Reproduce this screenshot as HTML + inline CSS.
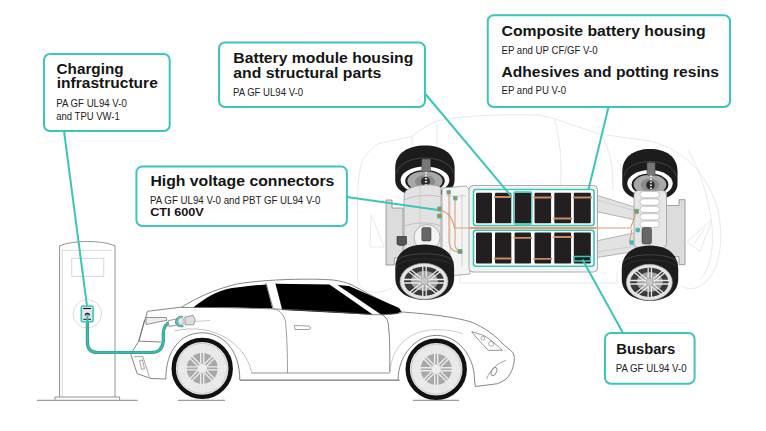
<!DOCTYPE html>
<html><head><meta charset="utf-8">
<style>
html,body{margin:0;padding:0;background:#fff;width:766px;height:431px;overflow:hidden}
svg{position:absolute;left:0;top:0;display:block}
.t{font-family:"Liberation Sans",sans-serif;font-weight:700;fill:#151515;font-size:14.5px}
.s{font-family:"Liberation Sans",sans-serif;font-weight:400;fill:#222;font-size:10.6px}
.box{fill:#fff;stroke:#3ac6b8;stroke-width:2}
.ld{stroke:#3ac6b8;stroke-width:2;fill:none}
</style></head><body>
<svg width="766" height="431" viewBox="0 0 766 431">
<g id="illus">
<g id="ghost" fill="none" stroke="#e2e2e2" stroke-width="0.8">
  <path d="M357.5 195 C358 180 360 168 362.8 159.3 C370 150 375 145 378.4 143.7 L411.9 136.3 C420 130 430 123 439 120.7 C455 117 470 116.4 485 115.5 C510 114.5 530 114.5 540.5 115.3 L554.6 118.8 L599.2 134 L650 141 C685 150 708 175 718 210 C724 240 720 268 706 282 C697 290 688 290 681.8 286"/>
  <path d="M554.6 118.8 C560 140 562 160 560.5 187 M601.6 135 C610 150 613 165 613 190 M437 124 V157 M412 136 V147"/>
  <path d="M357.5 195 V282 C362 292 375 296 392 288"/>
  <path d="M371 215 C376 225 380 238 384 247 L370 247 Z"/>
  <path d="M688 150 C700 170 708 195 712 225 C714 250 710 268 700 280"/>
  <path d="M687 241.8 L712 219.5 L700 251.5 Z M694 244 L705 228"/>
  <path d="M460 272 V283 H617 V272"/>
</g>
<g id="chassis" stroke-linejoin="round">
  <!-- front bumper beam -->
  <path d="M386 200 H392 V208 H403 V258 H394.4 V265 H386 Z" fill="#dcdcdc" stroke="#888" stroke-width="0.8"/>
  <!-- rear frame rails -->
  <path d="M596 195 L636 207.4 L636 220 L596 211.6 Z" fill="#e2e2e2" stroke="#999" stroke-width="0.7"/>
  <path d="M597 200 L636 211" fill="none" stroke="#bbb" stroke-width="0.5"/>
  <path d="M596 241 L636 232.5 L636 251.3 L596 257.6 Z" fill="#e2e2e2" stroke="#999" stroke-width="0.7"/>
  <path d="M597 252 L636 246" fill="none" stroke="#bbb" stroke-width="0.5"/>
  <!-- rear bumper beam -->
  <path d="M660 205.5 H679 V199.7 H685 V264.7 H679 V256.6 H660 Z" fill="#dcdcdc" stroke="#888" stroke-width="0.8"/>
  <!-- top tires -->
  <g id="tireTop">
    <path d="M395.2 168 C395.2 153 408 145.5 425 145.5 C442 145.5 454.6 153 454.6 168 V180 C454.6 190 445 196.5 425 196.5 C405 196.5 395.2 190 395.2 180 Z" fill="#1c1c1c"/>
    <path d="M397 173 C400 153 450 153 453 173" fill="none" stroke="#555" stroke-width="0.7"/>
    <ellipse cx="425" cy="180" rx="24.4" ry="13.6" fill="#fff"/>
    <ellipse cx="425" cy="181" rx="19.8" ry="11" fill="#1c1c1c"/>
    <ellipse cx="425" cy="181" rx="17.6" ry="9.8" fill="#a8a8a8"/>
    <ellipse cx="425" cy="181.5" rx="10" ry="6.5" fill="#8a8a8a"/>
    <circle cx="425.5" cy="181.5" r="4.5" fill="#2a2a2a"/>
    <rect x="421.8" y="159" width="8.7" height="13" rx="1" fill="#777" stroke="#444" stroke-width="0.5"/>
    <path d="M426 172 V190" stroke="#e6e6e6" stroke-width="2.2" stroke-dasharray="1.6 1.4"/>
  </g>
  <use href="#tireTop" transform="translate(650 3.5) scale(0.93 1) translate(-425 0)"/>
  <!-- front motor housing -->
  <path d="M404 252 V196 C404 190 410 187 420 185.5 C430 184 438 185 441 188 V252 Z" fill="#e2e2e2" stroke="#999" stroke-width="0.8"/>
  <path d="M404 200 C415 195 432 194 441 197 M404 226 C415 222 432 222 441 226" fill="none" stroke="#aaa" stroke-width="0.6"/>
  <path d="M420 186 V226" fill="none" stroke="#c4c4c4" stroke-width="0.6"/>
  <circle cx="427" cy="237.5" r="13" fill="#f4f4f4" stroke="#999" stroke-width="0.7"/>
  <rect x="421.8" y="227.4" width="9.2" height="13.6" rx="1.5" fill="#666" stroke="#333" stroke-width="0.5"/>
  <!-- small dark connector -->
  <path d="M397 236.5 H406.5 V244 C404 246 399 246 397 244 Z" fill="#555" stroke="#222" stroke-width="0.6"/>
  <!-- inverter box -->
  <path d="M442 188 L466 186 L470 190 V274 L448 276 L442 270 Z" fill="#f4f4f4" stroke="#999" stroke-width="0.8"/>
  <path d="M450 196 V268 M462 194 V266 M446 196 H466" fill="none" stroke="#bbb" stroke-width="0.6"/>
  <!-- battery pack -->
  <rect x="469" y="185.5" width="128.5" height="86.5" rx="4" fill="#f2f2f2" stroke="#999" stroke-width="0.8"/>
  <rect x="473.5" y="189.5" width="120.5" height="36" rx="2.5" fill="#fff" stroke="#3ac6b8" stroke-width="1.6"/>
  <rect x="473.5" y="230.2" width="120.5" height="36" rx="2.5" fill="#fff" stroke="#3ac6b8" stroke-width="1.6"/>
  <path d="M470 228 H596" stroke="#d6a07a" stroke-width="2"/>
  <g fill="#231f20">
    <rect x="476" y="192.8" width="16" height="30.5" rx="1"/>
    <rect x="495" y="192.8" width="16.3" height="30.5" rx="1"/>
    <rect x="514.6" y="192.8" width="16.4" height="30.5" rx="1"/>
    <rect x="534.5" y="192.8" width="16.6" height="30.5" rx="1"/>
    <rect x="554.3" y="192.8" width="16.8" height="30.5" rx="1"/>
    <rect x="573.8" y="192.8" width="17" height="30.5" rx="1"/>
    <rect x="476" y="232.5" width="16" height="31" rx="1"/>
    <rect x="495" y="232.5" width="16.3" height="31" rx="1"/>
    <rect x="514.6" y="232.5" width="16.4" height="31" rx="1"/>
    <rect x="534.5" y="232.5" width="16.6" height="31" rx="1"/>
    <rect x="554.3" y="232.5" width="16.8" height="31" rx="1"/>
    <rect x="573.8" y="232.5" width="17" height="31" rx="1"/>
  </g>
  <rect x="513.8" y="192" width="18" height="32" rx="1.5" fill="none" stroke="#3ac6b8" stroke-width="1.3"/>
  <g stroke="#c98a5e" stroke-width="1.8">
    <path d="M494 197 H512 M533.5 197.5 H552 M572.8 197.5 H592 M553.3 218.5 H572"/>
    <path d="M494 258.5 H512 M513.6 237.8 H532 M533.5 258.8 H552 M553.3 237 H572"/>
  </g>
  <path d="M574 256.5 H590.5 V261 H574 Z" fill="#231f20" stroke="#3ac6b8" stroke-width="1.3"/>
  <!-- rear motor -->
  <rect x="634" y="190.5" width="32.5" height="57" rx="4" fill="#e6e6e6" stroke="#999" stroke-width="0.8"/>
  <g fill="#fff" stroke="#aaa" stroke-width="0.6">
    <rect x="640" y="191.5" width="19.5" height="6.2" rx="3"/>
    <rect x="640" y="198.9" width="19.5" height="6.2" rx="3"/>
    <rect x="640" y="206.3" width="19.5" height="6.2" rx="3"/>
    <rect x="640" y="213.7" width="19.5" height="6.2" rx="3"/>
    <rect x="640" y="221.1" width="19.5" height="6.2" rx="3"/>
  </g>
  <rect x="642" y="227.5" width="9.5" height="16.5" rx="2" fill="#666" stroke="#333" stroke-width="0.5"/>
  <!-- bottom wheels -->
  <g id="wheelB">
    <path d="M395.3 268 C395.3 252 408 244.5 424.7 244.5 C441 244.5 454.1 252 454.1 268 V278 C454.1 292 441 299.8 424.7 299.8 C408 299.8 395.3 292 395.3 278 Z" fill="#1c1c1c"/>
    <path d="M396 262 C400 251 449 251 453.5 262" fill="none" stroke="#555" stroke-width="0.7"/>
    <path d="M396 267 C402 256 447 256 453.5 267" fill="none" stroke="#3a3a3a" stroke-width="0.6"/>
    <ellipse cx="424" cy="281.3" rx="24" ry="18" fill="#e4e4e4" stroke="#999" stroke-width="0.6"/>
    <ellipse cx="424" cy="281.3" rx="20" ry="14.6" fill="#3a3a3a"/>
    <ellipse cx="424.5" cy="281" rx="13.5" ry="10" fill="#a0a0a0"/>
    <g stroke="#eaeaea" stroke-width="1.3">
      <path d="M422.8 267 V296 M426.2 267 V296 M404 279.5 H445 M404 283 H445"/>
      <path d="M410.5 269.5 L439 292 M408.5 271.5 L437 294 M438.5 269.5 L410 292 M440.5 271.5 L412 294"/>
    </g>
    <circle cx="424.5" cy="281" r="3.8" fill="#c8c8c8" stroke="#888" stroke-width="0.5"/>
  </g>
  <use href="#wheelB" transform="translate(650 1) scale(0.96 1) translate(-424.7 0)"/>
  <!-- orange cables -->
  <g fill="none" stroke="#d6a07c" stroke-width="1.1">
    <path d="M440 210 C446 212 452 214 455 230 C456 240 452 249 460 251"/>
    <path d="M449 193 V240 C449 250 455 252 460 252"/>
    <path d="M455 199 V228 H470"/>
    <path d="M596 228 H630.6 L636.4 212"/>
    <path d="M632 228.7 L629.4 242.6"/>
  </g>
  <g fill="#e0702a" stroke="#3ac6b8" stroke-width="1">
    <rect x="437.5" y="207" width="4" height="4"/>
    <rect x="437.5" y="214" width="4" height="4"/>
    <rect x="447" y="190.5" width="3.5" height="3.5"/>
    <rect x="453.5" y="196.5" width="3.5" height="3.5"/>
    <rect x="458" y="249.5" width="4" height="4"/>
    <rect x="634.5" y="209.3" width="4" height="4"/>
    <rect x="636" y="228.3" width="3.5" height="3.5" fill="#5aa"/>
    <rect x="630" y="240.8" width="3.5" height="3.5" fill="#5aa"/>
  </g>
</g>
<g id="car" fill="none" stroke="#666" stroke-width="0.8" stroke-linejoin="round">
  <path d="M37 400.3 H137.7 M178 400.3 H225 M413 400.3 H459" stroke="#777" stroke-width="0.9"/>
  <!-- body silhouette -->
  <path fill="#fff" d="M147.4 311.3 L181.5 307.1 C195 299 213 289.5 238 283.8 C268 279 312 278.3 333 280 C341 281 346 282.5 352 285 L402.3 312 C430 314 455 317 471 322 C484 327 496 336 504 345 L512.6 352.1 C515 356 515 362 512 370 C510 375 507 379 503 381 L497.7 383.7 L475.4 386.5 L474.5 380 C474.5 356 458 335.4 436.5 335.4 C415 335.4 398.1 356 398.1 380 L239.8 380 C239.8 350 223 332.8 202 332.8 C181 332.8 165.8 350 165.8 379 L151 378.5 L137.2 373.7 L130.7 354.1 L138.8 341.1 Z"/>
  <!-- rear window -->
  <path fill="#000" stroke="none" d="M193.3 307.6 C205 298 216 291 232 288 C245 286 256 285 266.2 284.4 L272.4 308.4 C250 308 215 307.5 193.3 307.6 Z"/>
  <!-- C pillar -->
  <path d="M266 283 L273 308.5 M276 283 L282.5 310"/>
  <!-- front side window -->
  <path fill="#000" stroke="none" d="M275.5 283.8 L329.5 284.4 L373 314.7 L282.5 310 Z"/>
  <!-- windshield strip -->
  <path fill="#000" stroke="none" d="M337.5 284.9 L349 286 L398 307.5 C400 309 401 310.5 401 311.5 L397 314 L381.4 314.7 Z"/>
  <!-- belt line -->
  <path d="M181.5 307.5 C230 307 300 309 373 314.7 C385 314.7 392 314.5 402 312.5"/>
  <!-- A pillar / front door line -->
  <path d="M381.4 314.7 C385 316 387.7 319 388.5 325 C390 340 390 358 389.7 372"/>
  <!-- rear door line -->
  <path d="M273 308.5 C279 310 283 313 285.4 320.9 C287 335 287.5 355 287.5 373" stroke="#888"/>
  <!-- door handle -->
  <path d="M294.4 325.5 L309 326 L311 328 L309 329.5 L295 329.5 Z" stroke="#777" stroke-width="0.7"/>
  <!-- sill lines -->
  <path d="M251 373 H390 M240 380.4 H400" stroke="#888" stroke-width="0.9"/>
  <!-- rear panel details -->
  <path d="M144.5 320 L138.8 341.1 L160.8 342"/>
  <path d="M146 317.5 L166.2 317.5 L166.9 320.3 L146 324.5 Z" fill="#eee" stroke-width="0.7"/>
  <path d="M133.9 356.6 H142.9 L149.4 376.9" stroke-width="0.6"/>
  <path d="M139.6 360.6 L142.5 360 L144.5 368.8 L141.5 369.3 Z" stroke-width="0.6"/>
  <!-- rear shoulder line -->
  <path d="M167.5 327 C180 323 195 321 210 320.5" stroke="#aaa" stroke-width="0.6"/>
  <!-- rear arch lines -->
  <path d="M174.7 330.8 C215 322 246 345 251.6 372.3" stroke="#999" stroke-width="0.6"/>
  <!-- front arch lines -->
  <path d="M390 372 C392 345 410 329.7 437 329.7 C447 329.7 456 331 463 334" stroke="#aaa" stroke-width="0.6"/>
  <!-- headlight -->
  <path d="M471.7 331.7 C480 334 486 336 489.3 339.1 C494 343 499 347 502.3 350.3 L488.4 350.3 C482 344 476 337 471.7 331.7 Z" stroke-width="0.7"/>
  <circle cx="482.8" cy="338.2" r="1.9" stroke-width="0.5"/>
  <circle cx="491.2" cy="343.8" r="2.6" stroke-width="0.5"/>
  <!-- fog light -->
  <ellipse cx="494" cy="371.6" rx="2.4" ry="4.5" transform="rotate(25 494 371.6)" stroke-width="0.7"/>
  <path d="M486.6 379 C490 370 497 363 506 360.5" stroke-width="0.6"/>
  <!-- wheels -->
  <g id="wheelR">
    <circle cx="202.2" cy="368.4" r="28.5" fill="#e8e8e8" stroke="#111" stroke-width="4.4"/>
    <circle cx="202.2" cy="368.4" r="25" fill="none" stroke="#aaa" stroke-width="0.5"/>
    <circle cx="202.2" cy="368.4" r="15.5" fill="#a8a8a8" stroke="none"/>
    <g stroke="#ececec" stroke-width="1.4">
      <path d="M200.7 344 V393 M203.7 344 V393 M178 366.9 H226.5 M178 369.9 H226.5"/>
      <path d="M184.4 352.7 L219 387.3 M186.5 350.6 L221.1 385.2 M220 352.7 L185.4 387.3 M217.9 350.6 L183.3 385.2"/>
    </g>
    <circle cx="202.2" cy="368.4" r="5" fill="#eee" stroke="#bbb" stroke-width="0.5"/>
  </g>
  <use href="#wheelR" transform="translate(234 0.8)"/>
</g>
<g id="station" fill="none" stroke="#888" stroke-width="0.9">
  <path fill="#fff" d="M59.6 397 V245.7 C68 242.5 78 241.5 87.5 241.5 C97 241.5 107 242.5 115 245.7 V397"/>
  <path d="M62.3 249 V397" stroke="#ccc" stroke-width="0.7"/>
  <path d="M63 250.3 H112" stroke="#ccc" stroke-width="0.7"/>
  <rect x="71.8" y="258.3" width="32" height="18" stroke="#ccc" stroke-width="0.8"/>
  <circle cx="87.3" cy="313.8" r="14.2" fill="#fff" stroke="#ddd" stroke-width="1"/>
  <path d="M55 399.8 V397 H119.6 V399.8" stroke="#888"/>
</g>
<g id="cable">
  <path d="M87.4 314 V342 Q87.4 352.5 97.5 352.5 H151 Q162.5 352.5 163.3 341 V333 Q164 324 170 322.5" fill="none" stroke="#2b9487" stroke-width="3.2" stroke-linecap="round"/>
  <path d="M87.4 314 V342 Q87.4 352.5 97.5 352.5 H151 Q162.5 352.5 163.3 341 V333 Q164 324 170 322.5" fill="none" stroke="#3bbcab" stroke-width="2" stroke-linecap="round"/>
  <rect x="81.3" y="306" width="11.8" height="15.8" rx="1.5" fill="#e8e4e8" stroke="#3ac6b8" stroke-width="1.6"/>
  <path d="M83.2 308.5 H91" stroke="#111" stroke-width="1.1"/>
  <path d="M83.4 319.3 H91" stroke="#111" stroke-width="1"/>
  <path d="M85.3 315.5 A2.1 2.1 0 0 1 89.5 315.5" fill="none" stroke="#111" stroke-width="1.1"/>
  <path d="M87.4 314 V324" stroke="#3bbcab" stroke-width="2"/>
  <!-- plug -->
  <path d="M168 320.8 L176.5 318.8 L177.5 325 L169 326.3 Z" fill="#fff" stroke="#777" stroke-width="0.7"/>
  <path d="M183 316.5 C178.5 315.5 175.5 318.5 175.5 321.8 C175.5 325.5 179 327.5 183.5 326.5" fill="none" stroke="#222" stroke-width="0.6"/>
  <path d="M183 317.3 C179.5 316.5 176.7 319 176.7 321.8 C176.7 324.8 179.5 326.6 183.3 325.8" fill="none" stroke="#3ac6b8" stroke-width="2"/>
  <ellipse cx="181" cy="321.3" rx="3" ry="3.8" fill="#e4e4e4" stroke="#888" stroke-width="0.5"/>
  <path d="M184.8 317 L193 315.3 L195.2 320 L193.5 324.8 L185.3 324.8 Z" fill="#ddd" stroke="#777" stroke-width="0.7"/>
</g>

</g>
<!-- leaders -->
<path class="ld" d="M64 131 L87 306"/>
<path class="ld" d="M425 93.5 L511 196"/>
<path class="ld" d="M608.5 107 L588.5 189.5"/>
<path class="ld" d="M347 197 L438 210"/>
<path class="ld" d="M623 333 L582.5 259.5"/>
<!-- boxes -->
<rect class="box" x="44" y="54" width="125.7" height="77" rx="6"/>
<text class="t" x="56.6" y="73.6" textLength="67" lengthAdjust="spacingAndGlyphs">Charging</text>
<text class="t" x="56.8" y="88.1" textLength="101" lengthAdjust="spacingAndGlyphs">infrastructure</text>
<text class="s" x="56.3" y="106.6" textLength="70.5" lengthAdjust="spacingAndGlyphs">PA GF UL94 V-0</text>
<text class="s" x="56.3" y="120" textLength="63.5" lengthAdjust="spacingAndGlyphs">and TPU VW-1</text>

<rect class="box" x="219" y="42.5" width="206" height="64.5" rx="6"/>
<text class="t" x="233.3" y="63.2" textLength="180" lengthAdjust="spacingAndGlyphs">Battery module housing</text>
<text class="t" x="233.3" y="77.7" textLength="148" lengthAdjust="spacingAndGlyphs">and structural parts</text>
<text class="s" x="233" y="96" textLength="70" lengthAdjust="spacingAndGlyphs">PA GF UL94 V-0</text>

<rect class="box" x="487.75" y="15.25" width="242.25" height="91.75" rx="6"/>
<text class="t" x="501.6" y="35.9" textLength="204" lengthAdjust="spacingAndGlyphs">Composite battery housing</text>
<text class="s" x="501.5" y="53.6" textLength="96" lengthAdjust="spacingAndGlyphs">EP and UP CF/GF V-0</text>
<text class="t" x="501.5" y="76.5" textLength="217.5" lengthAdjust="spacingAndGlyphs">Adhesives and potting resins</text>
<text class="s" x="501.5" y="94" textLength="64.5" lengthAdjust="spacingAndGlyphs">EP and PU V-0</text>

<rect class="box" x="136.4" y="166.4" width="210.5" height="59.6" rx="6"/>
<text class="t" x="150.4" y="186.1" textLength="184" lengthAdjust="spacingAndGlyphs">High voltage connectors</text>
<text class="s" x="150" y="203.5" textLength="170.5" lengthAdjust="spacingAndGlyphs">PA GF UL94 V-0 and PBT GF UL94 V-0</text>
<text class="t" x="150.2" y="216.4" textLength="53.6" lengthAdjust="spacingAndGlyphs" style="font-size:11.5px">CTI 600V</text>

<rect class="box" x="605" y="333" width="89.6" height="50.7" rx="6"/>
<text class="t" x="616.3" y="354" textLength="59" lengthAdjust="spacingAndGlyphs">Busbars</text>
<text class="s" x="615.7" y="371.7" textLength="71" lengthAdjust="spacingAndGlyphs">PA GF UL94 V-0</text>
</svg>
</body></html>
